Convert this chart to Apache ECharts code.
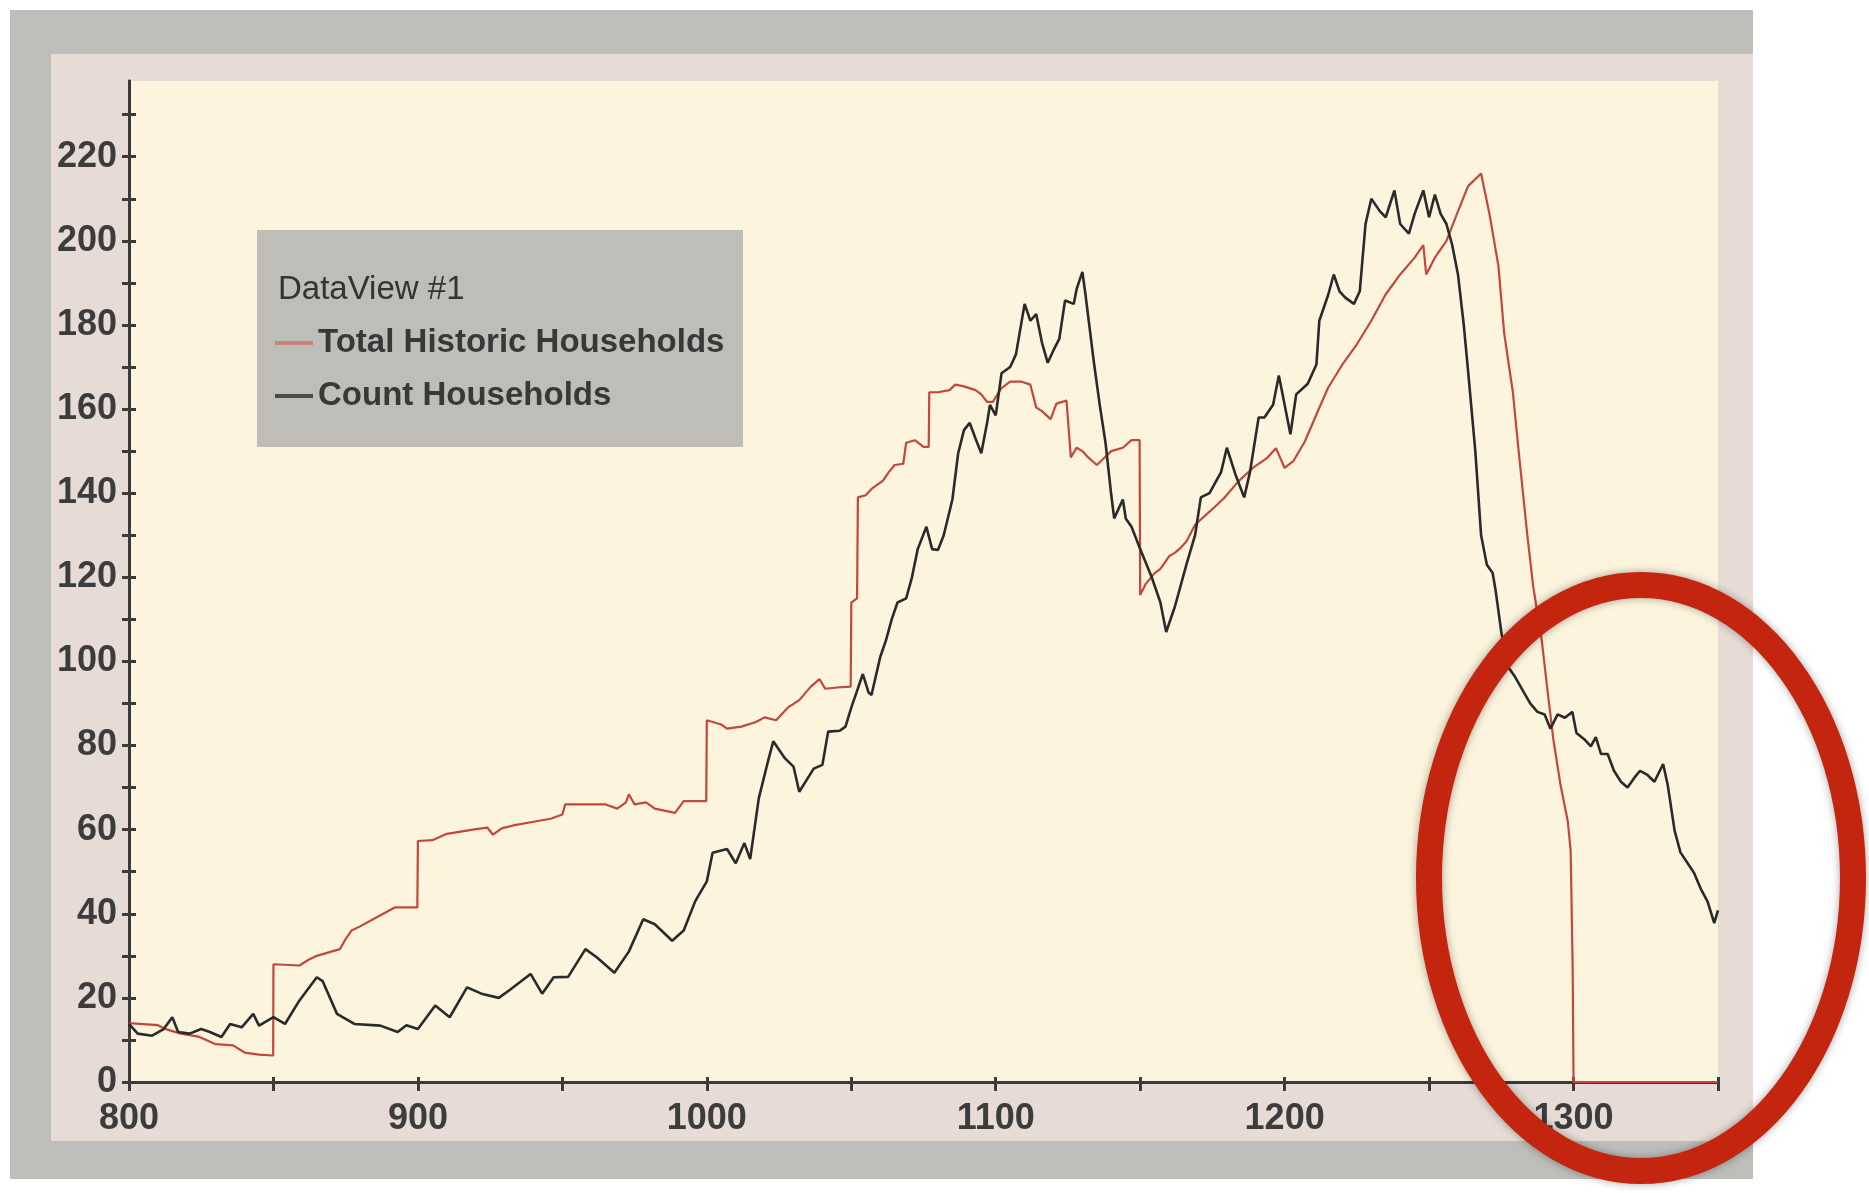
<!DOCTYPE html>
<html><head><meta charset="utf-8">
<script src="https://cdn.jsdelivr.net/npm/echarts@6/dist/echarts.min.js"></script>
<style>html,body{margin:0;padding:0;background:#fff}#c{width:1869px;height:1193px}</style>
</head><body><div id="c"></div>
<script>
const seriesNames = ['Total Historic Households', 'Count Households'];
const legendTitle = 'DataView #1';
const xLabelValues = [800, 900, 1000, 1100, 1200, 1300];
const xTickValues = [800, 850, 900, 950, 1000, 1050, 1100, 1150, 1200, 1250, 1300, 1350];
const yLabelValues = [0, 20, 40, 60, 80, 100, 120, 140, 160, 180, 200, 220];
const yTickValues = [0, 10, 20, 30, 40, 50, 60, 70, 80, 90, 100, 110, 120, 130, 140, 150, 160, 170, 180, 190, 200, 210, 220, 230];

const redYears = [800,810,813,818,824,830,836,840,845,849.9,850,859,862,865,870,873,875,877,880,884,888,892,899.8,900,905,910,919,924,926,929,933,941,946,950,951,959,965,969,972,973,975,979,982,989,992,999.8,1000,1005,1007,1012,1017,1020,1024,1028,1032,1036,1039,1041,1045,1049.8,1050,1052,1052.3,1055,1057,1061,1063,1065,1068,1069,1072,1075,1076.8,1077,1080,1084,1086,1089,1093,1095,1097,1099,1102,1105,1109,1112,1114,1116,1119,1121,1124.5,1126,1128,1130,1132,1135,1137,1140,1144,1147,1149.8,1150,1152,1155,1157,1160,1162,1164,1166,1169,1174,1179,1184,1189,1194,1197,1200,1203,1207,1211,1215,1220,1225,1230,1235,1240,1245,1248,1249,1252,1256,1260,1263.5,1268,1271,1274,1276,1279,1281,1284,1286,1289,1291,1293,1295.5,1298,1299,1299.7,1300,1350];
const redValues = [14,13.5,12.5,11.5,10.8,9,8.7,7,6.5,6.3,28,27.7,29,30,31,31.6,34,36,37,38.5,40,41.5,41.5,57.3,57.5,59,60,60.5,58.8,60.3,61,62,62.6,63.6,66,66,66,65,66.5,68.4,66,66.5,65,64,66.8,66.8,86,85,84,84.5,85.6,86.7,86,89,90.8,94,95.8,93.5,93.8,94,114,115,139,139.5,141,143,145,146.7,147,152,152.6,151,151,164,164,164.5,165.8,165.4,164.5,163.5,161.7,161.7,165,166.5,166.5,165.8,160.4,159.5,157.6,161.3,162,148.5,150.8,150,148.5,146.7,148,150,150.8,152.6,152.6,115.8,118.5,121,122,125,125.8,127,128.5,132.5,135.6,138.8,142.8,146,148.4,150.7,146,147.6,152.3,158.7,165,170.6,175.4,181,187.3,192,196,199,192,196,200,207,213,216,206,194,178,164,150,130,118,105,93,81.5,70.6,62,55,27,0,0];

const blackYears = [800,803,808,812,815,817,821,825,828,832,835,839,843,845,850,854,859,865,867,872,878,887,893,896,900,906,911,917,922,928,932,939,943,947,952,958,962,968,973,978,982,988,992,996,1000,1002,1007,1010,1013,1015,1018,1021,1023,1027,1030,1032,1037,1040,1042,1046,1048,1050,1052,1054,1056,1057,1060,1062,1064,1066,1069,1071,1073,1076,1078,1080,1082,1085,1087,1089,1091,1093,1095,1097,1098,1100,1102,1105,1107,1110,1112,1114,1116,1118,1120,1122,1124,1127,1128,1130,1131,1134,1136,1138,1140,1141,1144,1145,1147,1150,1154,1157,1159,1162,1166,1169,1171,1174,1178,1180,1183,1186,1188,1191,1193,1196,1198,1200,1202,1204,1208,1211,1212,1215,1217,1219,1221,1224,1226,1228,1230,1233,1235,1238,1240,1243,1245,1248,1250,1252,1254,1256,1258,1260,1262,1263.5,1266,1268,1270,1272,1273,1275,1277,1279.5,1283,1285,1287.5,1290,1292,1294.5,1297,1299.6,1301,1303.7,1306,1307.7,1309.5,1311.8,1314,1316.4,1318.7,1321,1323,1325.6,1328,1331,1332.6,1335,1337,1339.5,1341.8,1344,1346.4,1348.7,1350];
const blackValues = [13.8,11.5,11,12.6,15.4,11.9,11.5,12.6,11.9,10.7,13.8,13,16.2,13.4,15.4,13.8,19.4,24.9,24,16.2,13.8,13.4,11.9,13.5,12.6,18.2,15.4,22.5,21,20,22,25.7,21,24.9,25,31.6,29.6,26,31,38.7,37.5,33.6,36,43,47.7,54.5,55.4,52,56.8,53,67.5,75.8,81,77,75,69,74.5,75.4,83.3,83.5,84.5,89,93,97,92.6,92,101,105,110,114,115,120,126.7,132,126.7,126.5,130,138.5,149.5,155,156.7,153,149.5,156.7,161,158.5,168.5,170,173,185,181,182.6,175.8,171,174,176.7,185.8,185,188.5,192.6,187.6,171,161,152,139.5,134,138.5,134,132,126.7,120,114,107,113,123,130,139,140,145,150.8,144.4,139,145,158,158,161,168,161,154,163.5,166,170.6,181,187,192,188,186.5,185,188,204,210,207,205.6,212,204,201.7,206.4,212,205.6,211,206.4,204,199,192,180,169,150,130,123,121,117,107,99,96.6,92.4,90,88,87.4,84,87.4,86.6,88,83,81.5,79.8,82,78,78,74,71.4,70,72.3,74,73,71.4,75.6,70.6,59.7,54.6,52,49.6,46,42.9,37.8,40.8];

function pairs(xs, ys) { return xs.map((x, i) => [x, ys[i]]); }

const FONT = '"Liberation Sans", Arial, Helvetica, sans-serif';
const axisColor = '#3a3a3a';
const labelColor = '#3c3c3c';

function xAxisDef(inside, showLabel) {
  return {
    type: 'value', min: 800, max: 1350, interval: 50, position: 'bottom',
    axisLine: { show: true, onZero: false, lineStyle: { color: axisColor, width: 3 } },
    axisTick: { show: true, inside: inside, length: inside ? 5 : 9, customValues: xTickValues, lineStyle: { color: axisColor, width: 3 } },
    axisLabel: {
      show: showLabel, margin: 19, color: labelColor, fontSize: 36, fontWeight: 'bold', fontFamily: FONT,
      customValues: xLabelValues,
      formatter: v => xLabelValues.indexOf(v) >= 0 ? String(v) : ''
    },
    splitLine: { show: false }
  };
}
function yAxisDef(inside, showLabel) {
  return {
    type: 'value', min: 0, max: 238, interval: 10, position: 'left',
    axisLine: { show: true, onZero: false, lineStyle: { color: axisColor, width: 3 } },
    axisTick: { show: true, inside: inside, length: 7, customValues: yTickValues, lineStyle: { color: axisColor, width: 3 } },
    axisLabel: {
      show: showLabel, margin: 12, color: labelColor, fontSize: 36, fontWeight: 'bold', fontFamily: FONT,
      customValues: yLabelValues,
      formatter: v => yLabelValues.indexOf(v) >= 0 ? String(v) : ''
    },
    splitLine: { show: false }
  };
}

const chart = echarts.init(document.getElementById('c'));
chart.setOption({
  animation: false,
  backgroundColor: '#ffffff',
  grid: { left: 129, right: 151, top: 81, bottom: 111, show: true, backgroundColor: '#fdf4de', borderWidth: 0 },
  xAxis: [xAxisDef(false, true), xAxisDef(true, false)],
  yAxis: [yAxisDef(false, true), yAxisDef(true, false)],
  legend: {
    orient: 'vertical', left: 275, top: 323, padding: 0, itemGap: 13,
    itemWidth: 38, itemHeight: 4, icon: 'rect',
    textStyle: { fontSize: 33, lineHeight: 40, fontWeight: 'bold', color: '#383838', fontFamily: FONT },
    data: [
      { name: seriesNames[0], itemStyle: { color: '#c9837a' } },
      { name: seriesNames[1], itemStyle: { color: '#4a4a4a' } }
    ]
  },
  graphic: [
    { type: 'rect', z: -100, silent: true, shape: { x: 10, y: 10, width: 1743, height: 1169 }, style: { fill: '#bdbdb9' } },
    { type: 'rect', z: -99, silent: true, shape: { x: 51, y: 54, width: 1702, height: 1087 }, style: { fill: '#e6dbd5' } },
    { type: 'rect', z: 1, silent: true, shape: { x: 257, y: 230, width: 486, height: 217 }, style: { fill: '#bebdb8' } },
    { type: 'text', z: 2, silent: true, x: 278, y: 290, style: { text: legendTitle, fontSize: 33, fontFamily: FONT, fill: '#333333', verticalAlign: 'middle' } },
    { type: 'ellipse', z: 100, silent: true, shape: { cx: 1641, cy: 878, rx: 212, ry: 293 },
      style: { fill: 'none', stroke: '#c4250f', lineWidth: 26, shadowBlur: 8, shadowColor: 'rgba(0,0,0,0.35)' } }
  ],
  series: [
    { name: seriesNames[0], type: 'line', data: pairs(redYears, redValues), showSymbol: false, symbol: 'none',
      color: '#c2473c', lineStyle: { color: '#c2473c', width: 2.2 }, z: 3 },
    { name: seriesNames[1], type: 'line', data: pairs(blackYears, blackValues), showSymbol: false, symbol: 'none',
      color: '#2a2a2a', lineStyle: { color: '#2a2a2a', width: 2.6 }, z: 4 }
  ]
});
</script></body></html>
